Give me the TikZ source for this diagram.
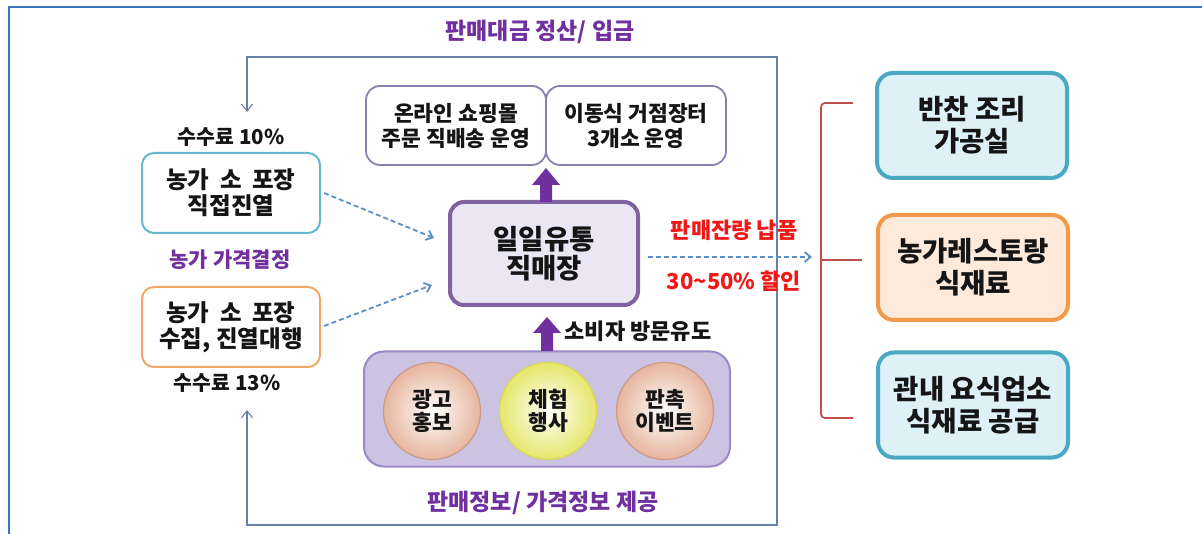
\documentclass[tikz,border=0pt]{standalone}
\usepackage{fontspec}
\setmainfont{Noto Sans CJK KR}
\usetikzlibrary{arrows.meta}
\definecolor{frameblue}{HTML}{3A74BE}
\definecolor{fbline}{HTML}{6A7FA8}
\definecolor{dashblue}{HTML}{5B8FC7}
\definecolor{purp}{HTML}{7030A0}
\definecolor{purpborder}{HTML}{8064A2}
\definecolor{lav}{HTML}{EAE6F3}
\definecolor{topborder}{HTML}{8C80B0}
\definecolor{contfill}{HTML}{CCC2E2}
\definecolor{contborder}{HTML}{9A88C8}
\definecolor{cyanb}{HTML}{4AA8C2}
\definecolor{cyanf}{HTML}{DDF1F7}
\definecolor{orangeb}{HTML}{F2994A}
\definecolor{orangef}{HTML}{FDEADA}
\definecolor{lcyanb}{HTML}{62B8CC}
\definecolor{lorangeb}{HTML}{F0A868}
\definecolor{brk}{HTML}{C0504D}
\definecolor{redtxt}{HTML}{F01818}
\definecolor{peach}{HTML}{E6B59E}
\definecolor{peachb}{HTML}{C99A86}
\definecolor{yel}{HTML}{E6E66A}
\definecolor{yelb}{HTML}{D6D65A}
\definecolor{txt}{HTML}{151515}
\newcommand{\wsp}{\hspace{0.45em}}
\tikzset{
  lbox/.style={rounded corners=12pt, line width=2pt, fill=white, minimum width=178pt, minimum height=80pt, align=center, text=txt, font=\fontsize{23.5}{26}\selectfont\bfseries},
  topbox/.style={rounded corners=14pt, line width=1.8pt, draw=topborder, fill=white, minimum width=180pt, minimum height=79pt, align=center, text=txt, font=\fontsize{21.5}{25}\selectfont\bfseries},
  cbox/.style={rounded corners=14pt, line width=4pt, draw=purpborder, fill=lav, minimum width=188pt, minimum height=103pt, align=center, text=txt, font=\fontsize{27.5}{29}\selectfont\bfseries},
  rbox/.style={rounded corners=16pt, line width=4pt, minimum width=190pt, minimum height=105pt, align=center, text=txt, font=\fontsize{27.5}{32}\selectfont\bfseries},
  circ/.style={circle, minimum size=97pt, line width=1.2pt, align=center, text=txt, font=\fontsize{21.5}{23.5}\selectfont\bfseries},
  lbl/.style={text=txt, font=\fontsize{20.5}{22}\selectfont\bfseries},
  plbl/.style={text=purp, font=\fontsize{23}{25}\selectfont\bfseries},
  rlbl/.style={text=redtxt, font=\fontsize{22}{24}\selectfont\bfseries},
  fb/.style={draw=fbline, line width=1.1pt, -{Straight Barb[length=7pt,width=11pt]}},
  dasharrow/.style={draw=dashblue, line width=1.8pt, dash pattern=on 5pt off 3pt, -{Straight Barb[length=6pt,width=10pt]}},
  blockarrow/.style={fill=purp, draw=none},
  bracket/.style={draw=brk, line width=1.8pt, rounded corners=4pt}
}
\begin{document}
\begin{tikzpicture}[x=1pt,y=-1pt]
\useasboundingbox (0,0) rectangle (1202,534);
% outer frame
\draw[frameblue, line width=2pt] (1202,7) -- (9,7) -- (9,534);

% left boxes and labels
\node[lbl] (fee10) at (231,137) {수수료 10\%};
\node[lbox, draw=lcyanb] (farm1) at (231,193) {농가\wsp 소\wsp 포장\\직접진열};
\node[plbl, font=\fontsize{21}{23}\selectfont\bfseries] (price) at (230,260) {농가 가격결정};
\node[lbox, draw=lorangeb] (farm2) at (231,327) {농가\wsp 소\wsp 포장\\수집, 진열대행};
\node[lbl] (fee13) at (227,383) {수수료 13\%};

% center
\node[cbox] (market) at (544,253.5) {일일유통\\직매장};
\node[topbox] (online) at (456,125.5) {온라인 쇼핑몰\\주문 직배송 운영};
\node[topbox] (mobile) at (636,125.5) {이동식 거점장터\\3개소 운영};

% container with circles
\node[rounded corners=20pt, line width=2pt, draw=contborder, fill=contfill, minimum width=366pt, minimum height=115pt] (cont) at (547,409) {};
\node[circ, draw=peachb, inner color=white, outer color=peach] (c1) at (432,411) {광고\\홍보};
\node[circ, draw=yelb, inner color=white, outer color=yel] (c2) at (548,411) {체험\\행사};
\node[circ, draw=peachb, inner color=white, outer color=peach] (c3) at (665,411) {판촉\\이벤트};

% block arrows
\fill[blockarrow] (540,202) -- (540,185) -- (532,185) -- (546,168) -- (560,185) -- (552,185) -- (552,202) -- cycle;
\fill[blockarrow] (541,351) -- (541,333) -- (533,333) -- (547,317) -- (561,333) -- (553,333) -- (553,351) -- cycle;
\node[lbl, anchor=west, font=\fontsize{22}{24}\selectfont\bfseries] (visit) at (561,331) {소비자 방문유도};

% purple labels
\node[plbl] (pay) at (540,32) {판매대금 정산/ 입금};
\node[plbl] (info) at (543,503) {판매정보/ 가격정보 제공};

% feedback loop
\coordinate (fr) at (777,291);
\coordinate (fbt) at (247,112);
\coordinate (fbb) at (247,410);
\draw[fb] (fr) |- (247,57) -- (fbt);
\draw[fb] (fr) |- (247,525) -- (fbb);

% dashed arrows left
\coordinate (in1) at (434,238);
\coordinate (in2) at (432,285);
\draw[dasharrow] ([xshift=3pt]farm1.east) -- (in1);
\draw[dasharrow] ([xshift=3pt,yshift=1pt]farm2.east) -- (in2);

% right dashed arrow and labels
\coordinate (rin) at (812,257);
\draw[dasharrow] ([xshift=8pt]market.east |- rin) -- (rin);
\node[rlbl] (rem) at (734,230) {판매잔량 납품};
\node[rlbl] (disc) at (734,281) {30\textasciitilde50\% 할인};

% bracket
\coordinate (bt) at (853,103);
\coordinate (bm) at (862,260);
\coordinate (bb) at (853,418);
\draw[bracket] (bt) -- (821,103) -- (821,418) -- (bb);
\draw[bracket] (821,260) -- (bm);

% right boxes
\node[rbox, draw=cyanb, fill=cyanf] (side) at (972,125.5) {반찬 조리\\가공실};
\node[rbox, draw=orangeb, fill=orangef] (rest) at (973,267.5) {농가레스토랑\\식재료};
\node[rbox, draw=cyanb, fill=cyanf] (supply) at (973,405) {관내 요식업소\\식재료 공급};
\end{tikzpicture}
\end{document}
